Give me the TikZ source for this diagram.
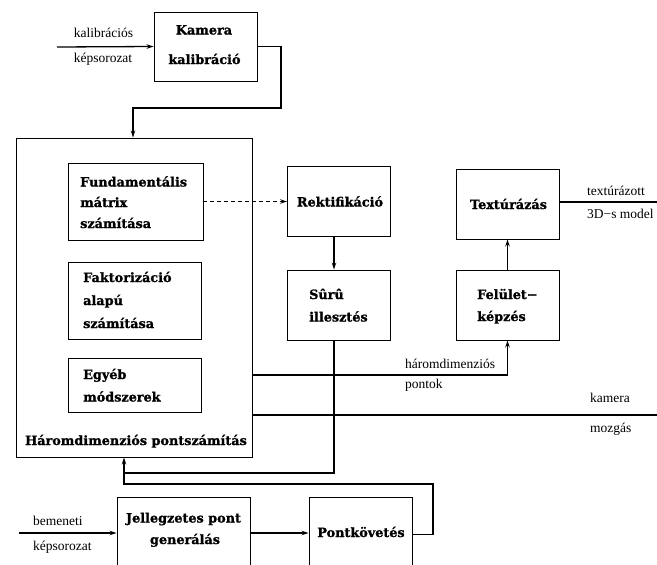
\documentclass[tikz,border=0pt]{standalone}
\usepackage{fontspec}
\setmainfont{Liberation Serif}
\newfontfamily\bfnt{DejaVu Serif}[BoldFeatures={FakeBold=1.2}]
\usetikzlibrary{arrows.meta}
\begin{document}
\begin{tikzpicture}[x=1pt,y=-1pt,
  box/.style={draw,line width=0.9pt,inner sep=0pt},
  bt/.style={inner sep=0pt,font=\bfnt\bfseries\fontsize{12.8}{14}\selectfont},
  lt/.style={inner sep=0pt,font=\fontsize{13.5}{15}\selectfont},
  conn/.style={line width=1.3pt},
  arr/.style={conn,-{Stealth[length=7pt,width=4.5pt]}}]
\useasboundingbox (0,0) rectangle (657,565);
\begin{scope}
\clip (0,0) rectangle (657,565);
% boxes
\node[box,minimum width=103,minimum height=69] (kam) at (205.5,46.5) {};
\node[box,minimum width=236,minimum height=319] (td) at (134,297.5) {};
\node[box,minimum width=135,minimum height=77] (fund) at (135.5,201.5) {};
\node[box,minimum width=133,minimum height=77] (fakt) at (134.5,300.5) {};
\node[box,minimum width=133,minimum height=54] (egy) at (134.5,385) {};
\node[box,minimum width=103,minimum height=70] (rek) at (339,201.5) {};
\node[box,minimum width=103,minimum height=70] (suru) at (339,305) {};
\node[box,minimum width=103,minimum height=70] (tex) at (507.5,204) {};
\node[box,minimum width=103,minimum height=70] (fel) at (507.5,305) {};
\node[box,minimum width=133,minimum height=75] (jel) at (183.5,534.5) {};
\node[box,minimum width=103,minimum height=75] (pont) at (360.5,534.5) {};
% bold texts
\node[bt,anchor=base] (t1) at (204,34.5) {Kamera};
\node[bt,anchor=base] (t2) at (204.5,64) {kalibráció};
\node[bt,anchor=base west] (t3) at (80,186.5) {Fundamentális};
\node[bt,anchor=base west] (t4) at (80,207) {mátrix};
\node[bt,anchor=base west] (t5) at (80,228) {számítása};
\node[bt,anchor=base west] (t6) at (83,282) {Faktorizáció};
\node[bt,anchor=base west] (t7) at (83,305) {alapú};
\node[bt,anchor=base west] (t8) at (83,328) {számítása};
\node[bt,anchor=base west] (t9) at (83,379) {Egyéb};
\node[bt,anchor=base west] (t10) at (83,401.5) {módszerek};
\node[bt,anchor=base] (t11) at (136,445) {Háromdimenziós pontszámítás};
\node[bt,anchor=base] (t12) at (340,206.5) {Rektifikáció};
\node[bt,anchor=base west] (t13) at (309,299) {Sûrû};
\node[bt,anchor=base west] (t14) at (309,321.5) {illesztés};
\node[bt,anchor=base] (t15) at (508.5,209) {Textúrázás};
\node[bt,anchor=base west] (t16) at (477,299) {Felület−};
\node[bt,anchor=base west] (t17) at (477,321) {képzés};
\node[bt,anchor=base] (t18) at (183.5,522.5) {Jellegzetes pont};
\node[bt,anchor=base] (t19) at (185,544) {generálás};
\node[bt,anchor=base] (t20) at (361,537) {Pontkövetés};
% light labels
\node[lt,anchor=base] (l1) at (103.5,37.5) {kalibrációs};
\node[lt,anchor=base] (l2) at (103,62) {képsorozat};
\node[lt,anchor=base west] (l3) at (405,368) {háromdimenziós};
\node[lt,anchor=base west] (l4) at (405,388) {pontok};
\node[lt,anchor=base west] (l5) at (590,402) {kamera};
\node[lt,anchor=base west] (l6) at (590,432) {mozgás};
\node[lt,anchor=base west] (l7) at (587,195) {textúrázott};
\node[lt,anchor=base west] (l8) at (587,218) {3D−s model};
\node[lt,anchor=base west] (l9) at (33,525) {bemeneti};
\node[lt,anchor=base west] (l10) at (33,550) {képsorozat};
% coordinates
\coordinate (kin) at (57,47);
\coordinate (k1) at (281,108);
\coordinate (k2) at (133,108);
\coordinate (sx) at (334,0);
\coordinate (s1) at (334,473);
\coordinate (s2) at (124,473);
\coordinate (p1) at (433,484);
\coordinate (p2) at (124,484);
\coordinate (f1) at (507,375);
\coordinate (km) at (657,415);
\coordinate (tout) at (657,202);
\coordinate (bin) at (19,533);
% connectors
\draw[arr] (kin) -- (kam.west);
\draw[arr] (kam.east) -| (k1) -- (k2) -- (k2 |- td.north);
\draw[arr,dash pattern=on 4pt off 3pt] (fund.east) -- (fund.east -| rek.west);
\draw[arr] (rek.south -| sx) -- (suru.north -| sx);
\draw[conn] (suru.south -| sx) -- (s1) -- (s2);
\draw[arr] (pont.east) -| (p1) -- (p2) -- (p2 |- td.south);
\draw[arr] (td.east |- f1) -| (fel.south);
\draw[arr] (fel.north) -- (tex.south);
\draw[conn] (td.east |- km) -- (km);
\draw[conn] (tex.east |- tout) -- (tout);
\draw[arr] (bin) -- (bin -| jel.west);
\draw[arr] (jel.east |- bin) -- (bin -| pont.west);
\end{scope}
\end{tikzpicture}
\end{document}
